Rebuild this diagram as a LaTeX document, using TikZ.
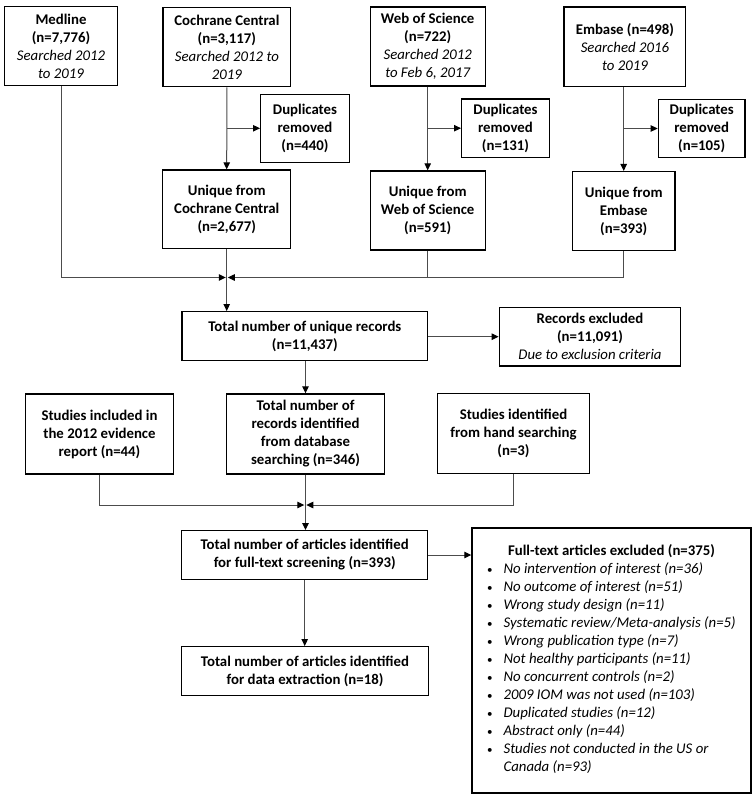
\documentclass[tikz,border=0pt]{standalone}
\usepackage{fontspec}
\setmainfont{Carlito}
\usetikzlibrary{arrows.meta}
\newcommand\itl[1]{{\mdseries\itshape #1}}
\newcommand\blt{\makebox[5.2pt][c]{\mdseries\fontsize{11}{18}\selectfont\textbullet}}
\begin{document}
\begin{tikzpicture}[x=1pt,y=-1pt,
  box/.style={draw=black, line width=1.4pt, align=center, inner sep=0pt,
    font=\fontsize{14.8}{18}\selectfont\bfseries},
  conn/.style={line width=1pt, draw=black!70},
  arr/.style={conn, -{Triangle[length=7pt,width=6.5pt,color=black]}}]
\useasboundingbox (0,0) rectangle (755,797);
% top row
\node[box,minimum width=113.4pt,minimum height=79pt] (med) at (61,46.2)
  {Medline\\(n=7,776)\\\itl{Searched 2012}\\\itl{to 2019}};
\node[box,minimum width=127.7pt,minimum height=79.4pt] (coch) at (226.9,47)
  {Cochrane Central\\(n=3,117)\\\itl{Searched 2012 to}\\\itl{2019}};
\node[box,minimum width=115pt,minimum height=79pt] (wos) at (427.7,46.5)
  {Web of Science\\(n=722)\\\itl{Searched 2012}\\\itl{to Feb 6, 2017}};
\node[box,minimum width=121.7pt,minimum height=79.7pt] (emb) at (624.9,46.8)
  {Embase (n=498)\\\itl{Searched 2016}\\\itl{to 2019}};
% duplicates
\node[box,minimum width=88.6pt,minimum height=68pt] (dup1) at (305,128.3)
  {Duplicates\\removed\\(n=440)};
\node[box,minimum width=87.6pt,minimum height=58.3pt] (dup2) at (505.5,128.2)
  {Duplicates\\removed\\(n=131)};
\node[box,minimum width=86.7pt,minimum height=58.4pt] (dup3) at (701.7,128.5)
  {Duplicates\\removed\\(n=105)};
% unique
\node[box,minimum width=128pt,minimum height=78.3pt] (uc) at (226.7,209.2)
  {Unique from\\Cochrane Central\\(n=2,677)};
\node[box,minimum width=115pt,minimum height=79pt] (uw) at (427.7,210.5)
  {Unique from\\Web of Science\\(n=591)};
\node[box,minimum width=102.7pt,minimum height=78.7pt] (ue) at (623.7,211)
  {Unique from\\Embase\\(n=393)};
% totals
\node[box,minimum width=245.7pt,minimum height=49pt] (tot) at (304.9,336.2)
  {Total number of unique records\\(n=11,437)};
\node[box,minimum width=181.4pt,minimum height=58.7pt] (rex) at (590,336.7)
  {Records excluded\\(n=11,091)\\\itl{Due to exclusion criteria}};
\node[box,minimum width=147.6pt,minimum height=80pt] (inc) at (99.5,434)
  {Studies included in\\the 2012 evidence\\report (n=44)};
\node[box,minimum width=157.6pt,minimum height=80pt] (rec) at (305.5,434)
  {Total number of\\records identified\\from database\\searching (n=346)};
\node[box,minimum width=151.6pt,minimum height=80.4pt] (hand) at (513.5,433.5)
  {Studies identified\\from hand searching\\(n=3)};
\node[box,minimum width=246pt,minimum height=48.6pt] (fts) at (304.7,555)
  {Total number of articles identified\\for full-text screening (n=393)};
\node[box,minimum width=246.6pt,minimum height=49pt] (ext) at (305,671.2)
  {Total number of articles identified\\for data extraction (n=18)};
\node[box,minimum width=279pt,minimum height=265pt] (fte) at (611.5,660.3)
  {\begin{tabular}{@{}l@{\hspace{11pt}}l@{}}
   \multicolumn{2}{c}{Full-text articles excluded (n=375)}\\
   \blt & \itl{No intervention of interest (n=36)}\\
   \blt & \itl{No outcome of interest (n=51)}\\
   \blt & \itl{Wrong study design (n=11)}\\
   \blt & \itl{Systematic review/Meta-analysis (n=5)}\\
   \blt & \itl{Wrong publication type (n=7)}\\
   \blt & \itl{Not healthy participants (n=11)}\\
   \blt & \itl{No concurrent controls (n=2)}\\
   \blt & \itl{2009 IOM was not used (n=103)}\\
   \blt & \itl{Duplicated studies (n=12)}\\
   \blt & \itl{Abstract only (n=44)}\\
   \blt & \itl{Studies not conducted in the US or}\\
    & \itl{Canada (n=93)}
  \end{tabular}};
% coordinates of merge points
\coordinate (m1) at (226.8,277.5);
\coordinate (m2) at (305.3,505);
% connectors top
\draw[arr] (coch.south) -- (uc.north);
\draw[arr] (coch.south |- dup1.west) -- (dup1.west);
\draw[arr] (wos.south) -- (uw.north);
\draw[arr] (wos.south |- dup2.west) -- (dup2.west);
\draw[arr] (emb.south -| ue.north) -- (ue.north);
\draw[arr] (ue.north |- dup3.west) -- (dup3.west);
% merge 1
\draw[arr] (med.south) |- ([xshift=-1pt]m1);
\draw[arr] (ue.south) |- ([xshift=1pt]m1);
\draw[conn] (uw.south) -- (uw.south |- m1);
\draw[arr] (uc.south) -- (uc.south |- tot.north);
\draw[arr] (tot.east |- rex.west) -- (rex.west);
\draw[arr] (tot.south -| rec.north) -- (rec.north);
% merge 2
\draw[arr] (inc.south) |- ([xshift=-1pt]m2);
\draw[arr] (hand.south) |- ([xshift=1pt]m2);
\draw[arr] (rec.south) -- (rec.south |- fts.north);
\draw[arr] (fts.east) -- (fts.east -| fte.west);
\draw[arr] (fts.south) -- (fts.south |- ext.north);
\end{tikzpicture}
\end{document}
